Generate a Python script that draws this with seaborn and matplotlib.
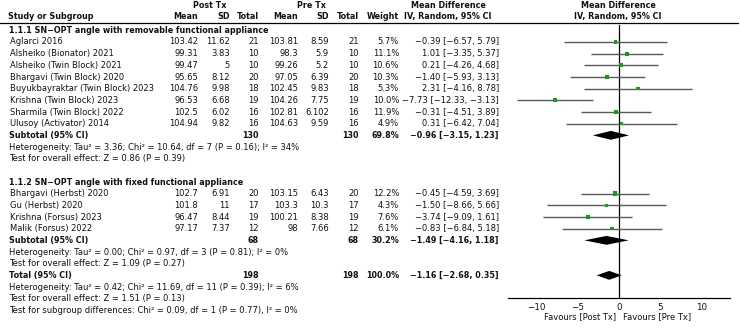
import numpy as np
import pandas as pd
import seaborn as sns
import matplotlib
matplotlib.use("Agg")
import matplotlib.pyplot as plt
from matplotlib.transforms import blended_transform_factory
from matplotlib.lines import Line2D

sns.set_style("white")
plt.rcParams['font.family'] = ['DejaVu Sans']

M = "\u2212"

# ---------------- data ----------------
studies_g1 = ["Aglarci 2016", "Alsheiko (Bionator) 2021", "Alsheiko (Twin Block) 2021",
              "Bhargavi (Twin Block) 2020", "Buyukbayraktar (Twin Block) 2023",
              "Krishna (Twin Block) 2023", "Sharmila (Twin Block) 2022", "Ulusoy (Activator) 2014"]
post_mean_g1 = ["103.42", "99.31", "99.47", "95.65", "104.76", "96.53", "102.5", "104.94"]
post_sd_g1 = ["11.62", "3.83", "5", "8.12", "9.98", "6.68", "6.02", "9.82"]
post_n_g1 = [21, 10, 10, 20, 18, 19, 16, 16]
pre_mean_g1 = ["103.81", "98.3", "99.26", "97.05", "102.45", "104.26", "102.81", "104.63"]
pre_sd_g1 = ["8.59", "5.9", "5.2", "6.39", "9.83", "7.75", "6.102", "9.59"]
pre_n_g1 = [21, 10, 10, 20, 18, 19, 16, 16]
weight_g1 = [5.7, 11.1, 10.6, 10.3, 5.3, 10.0, 11.9, 4.9]
md_g1 = [-0.39, 1.01, 0.21, -1.40, 2.31, -7.73, -0.31, 0.31]
lo_g1 = [-6.57, -3.35, -4.26, -5.93, -4.16, -12.33, -4.51, -6.42]
hi_g1 = [5.79, 5.37, 4.68, 3.13, 8.78, -3.13, 3.89, 7.04]

studies_g2 = ["Bhargavi (Herbst) 2020", "Gu (Herbst) 2020", "Krishna (Forsus) 2023", "Malik (Forsus) 2022"]
post_mean_g2 = ["102.7", "101.8", "96.47", "97.17"]
post_sd_g2 = ["6.91", "11", "8.44", "7.37"]
post_n_g2 = [20, 17, 19, 12]
pre_mean_g2 = ["103.15", "103.3", "100.21", "98"]
pre_sd_g2 = ["6.43", "10.3", "8.38", "7.66"]
pre_n_g2 = [20, 17, 19, 12]
weight_g2 = [12.2, 4.3, 7.6, 6.1]
md_g2 = [-0.45, -1.50, -3.74, -0.83]
lo_g2 = [-4.59, -8.66, -9.09, -6.84]
hi_g2 = [3.69, 5.66, 1.61, 5.18]

sub_labels = ["Subtotal (95% CI)", "Subtotal (95% CI)", "Total (95% CI)"]
sub_n = [130, 68, 198]
sub_weight = ["69.8%", "30.2%", "100.0%"]
sub_md = [-0.96, -1.49, -1.16]
sub_lo = [-3.15, -4.16, -2.68]
sub_hi = [1.23, 1.18, 0.35]

group_titles = ["1.1.1 SN" + M + "OPT angle with removable functional appliance",
                "1.1.2 SN" + M + "OPT angle with fixed functional appliance"]
het_texts = [
    "Heterogeneity: Tau\u00b2 = 3.36; Chi\u00b2 = 10.64, df = 7 (P = 0.16); I\u00b2 = 34%",
    "Heterogeneity: Tau\u00b2 = 0.00; Chi\u00b2 = 0.97, df = 3 (P = 0.81); I\u00b2 = 0%",
    "Heterogeneity: Tau\u00b2 = 0.42; Chi\u00b2 = 11.69, df = 11 (P = 0.39); I\u00b2 = 6%",
]
effect_texts = [
    "Test for overall effect: Z = 0.86 (P = 0.39)",
    "Test for overall effect: Z = 1.09 (P = 0.27)",
    "Test for overall effect: Z = 1.51 (P = 0.13)",
]
subgroup_text = "Test for subgroup differences: Chi\u00b2 = 0.09, df = 1 (P = 0.77), I\u00b2 = 0%"
xticks = [-10, -5, 0, 5, 10]
fav_left, fav_right = "Favours [Post Tx]", "Favours [Pre Tx]"

# ---------------- layout ----------------
W, H = 740, 333
fig = plt.figure(figsize=(7.4, 3.33), dpi=100)
ax_left, ax_right, ax_bottom = 507.7, 730.0, 297.7
ax = fig.add_axes([ax_left / W, 1 - ax_bottom / H, (ax_right - ax_left) / W, ax_bottom / H])

row0_px, step_px = 42.0, 11.667
def px2row(p):
    return (p - row0_px) / step_px

ax.set_ylim(px2row(ax_bottom), px2row(0))
ax.set_xlim(-13.4, 13.4)

FS = 6.0
FSB = 5.75
tr = blended_transform_factory(fig.transFigure, ax.transData)
def T(xpx, row, s, ha="left", bold=False):
    ax.text(xpx / W, row, s, transform=tr, ha=ha, va="center", fontsize=FSB if bold else FS,
            fontweight="bold" if bold else "normal", color="#111111", clip_on=False)

def fmt(v):
    return ("%.2f" % v).replace("-", M)

def mdtxt(m, l, h):
    return "%s [%s, %s]" % (fmt(m), fmt(l), fmt(h))

# column right edges (px)
C_PM, C_PSD, C_PN, C_QM, C_QSD, C_QN, C_W, C_MD = 198, 230, 259, 298, 329, 359, 399, 499

# headers
hr1, hr2 = px2row(6), px2row(17)
T(210, hr1, "Post Tx", "center", True)
T(311, hr1, "Pre Tx", "center", True)
T(448, hr1, "Mean Difference", "center", True)
T(618, hr1, "Mean Difference", "center", True)
T(8, hr2, "Study or Subgroup", "left", True)
for x, s in [(C_PM, "Mean"), (C_PSD, "SD"), (C_PN, "Total"), (C_QM, "Mean"),
             (C_QSD, "SD"), (C_QN, "Total"), (C_W, "Weight")]:
    T(x, hr2, s, "right", True)
T(448, hr2, "IV, Random, 95% CI", "center", True)
T(618, hr2, "IV, Random, 95% CI", "center", True)
fig.add_artist(Line2D([0, 738 / W], [1 - 23 / H, 1 - 23 / H], color="black", lw=0.9))

# build rows
rows = []
groups = [
    (studies_g1, post_mean_g1, post_sd_g1, post_n_g1, pre_mean_g1, pre_sd_g1, pre_n_g1, weight_g1, md_g1, lo_g1, hi_g1),
    (studies_g2, post_mean_g2, post_sd_g2, post_n_g2, pre_mean_g2, pre_sd_g2, pre_n_g2, weight_g2, md_g2, lo_g2, hi_g2),
]
study_rows = []
r = -1
for gi, g in enumerate(groups):
    T(9, r, group_titles[gi], "left", True)
    r += 1
    names, pm, psd, pn, qm, qsd, qn, w, md, lo, hi = g
    for i in range(len(names)):
        T(9.5, r, names[i])
        T(C_PM, r, pm[i], "right"); T(C_PSD, r, psd[i], "right"); T(C_PN, r, str(pn[i]), "right")
        T(C_QM, r, qm[i], "right"); T(C_QSD, r, qsd[i], "right"); T(C_QN, r, str(qn[i]), "right")
        T(C_W, r, "%.1f%%" % w[i], "right")
        T(C_MD, r, mdtxt(md[i], lo[i], hi[i]), "right")
        study_rows.append(dict(row=r, md=md[i], lo=lo[i], hi=hi[i], w=w[i]))
        r += 1
    # subtotal
    T(9, r, sub_labels[gi], "left", True)
    T(C_PN, r, str(sub_n[gi]), "right", True); T(C_QN, r, str(sub_n[gi]), "right", True)
    T(C_W, r, sub_weight[gi], "right", True)
    T(C_MD, r, mdtxt(sub_md[gi], sub_lo[gi], sub_hi[gi]), "right", True)
    rows.append(r)
    r += 1
    T(9, r, het_texts[gi]); r += 1
    T(9, r, effect_texts[gi]); r += 2

# total
tot_r = r - 1
T(9, tot_r, sub_labels[2], "left", True)
T(C_PN, tot_r, str(sub_n[2]), "right", True); T(C_QN, tot_r, str(sub_n[2]), "right", True)
T(C_W, tot_r, sub_weight[2], "right", True)
T(C_MD, tot_r, mdtxt(sub_md[2], sub_lo[2], sub_hi[2]), "right", True)
rows.append(tot_r)
T(9, tot_r + 1, het_texts[2])
T(9, tot_r + 2, effect_texts[2])
T(9, tot_r + 3, subgroup_text)

# ---------------- plot ----------------
df = pd.DataFrame(study_rows)
ax.hlines(df["row"], df["lo"], df["hi"], color="#5a5a5a", lw=1.0, zorder=2)
sns.scatterplot(data=df, x="md", y="row", size="w", sizes=(4, 10), marker="s",
                color="#10a010", edgecolor="none", legend=False, ax=ax, zorder=3)

dh = 0.38
for rr, m, l, h in zip(rows, sub_md, sub_lo, sub_hi):
    ax.fill([l, m, h, m], [rr, rr - dh, rr, rr + dh], color="black", lw=0, zorder=4)

ax.plot([0, 0], [px2row(25), px2row(ax_bottom)], color="black", lw=0.9, zorder=1)

for s in ["top", "right", "left"]:
    ax.spines[s].set_visible(False)
ax.spines["bottom"].set_linewidth(0.9)
ax.spines["bottom"].set_color("black")
ax.set_yticks([])
ax.set_xticks(xticks)
ax.set_xticklabels([str(t).replace("-", M) for t in xticks], fontsize=6.3)
ax.tick_params(axis="x", direction="out", length=3, width=0.8, pad=0.5, color="black",
               labelcolor="#111111")
ax.set_xlabel(""); ax.set_ylabel("")
ax.grid(False)

fav_row = px2row(316.5)
ax.text(-0.35, fav_row, fav_left, ha="right", va="center", fontsize=FS, color="#111111", clip_on=False)
ax.text(0.45, fav_row, fav_right, ha="left", va="center", fontsize=FS, color="#111111", clip_on=False)

fig.savefig("out.png", dpi=100, facecolor="white")
